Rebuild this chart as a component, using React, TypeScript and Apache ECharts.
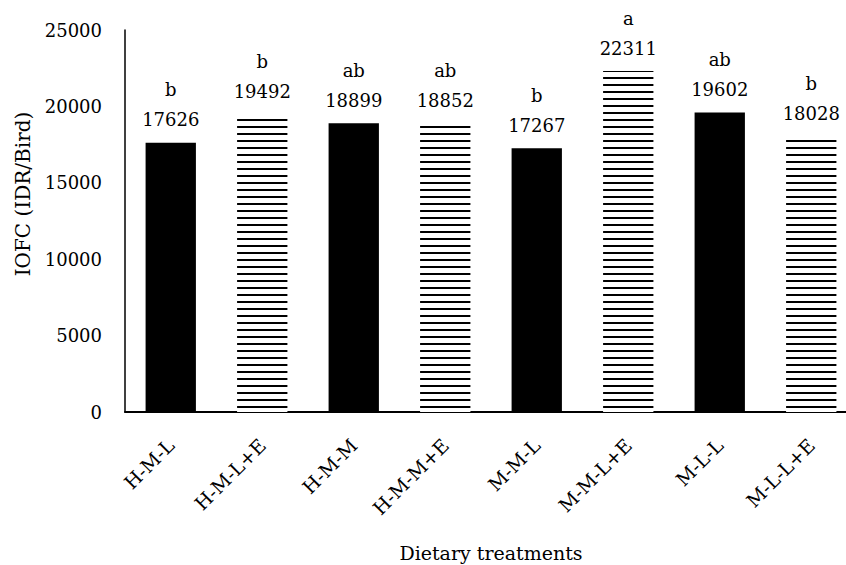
import React, { useEffect, useRef } from "react";
import * as echarts from "echarts";

const categories = ["H-M-L", "H-M-L+E", "H-M-M", "H-M-M+E", "M-M-L", "M-M-L+E", "M-L-L", "M-L-L+E"];
const values = [17626, 19492, 18899, 18852, 17267, 22311, 19602, 18028];
const letters = ["b", "b", "ab", "ab", "b", "a", "ab", "b"];
const hatched = [false, true, false, true, false, true, false, true];
const yTicks = { min: 0, max: 25000, interval: 5000 };

const FONT = "'DejaVu Serif', 'Liberation Serif', serif";

export default function App() {
  const ref = useRef<HTMLDivElement>(null);
  useEffect(() => {
    if (!ref.current) return;
    const chart = echarts.init(ref.current, undefined, { renderer: "svg" });
    const data = values.map((v, i) => ({
      value: v,
      itemStyle: hatched[i]
        ? {
            color: "#ffffff",
            decal: {
              symbol: "rect",
              symbolSize: 1,
              color: "#000000",
              dashArrayX: [1, 0],
              dashArrayY: [2, 5],
              rotation: 0,
            },
          }
        : { color: "#000000" },
    }));
    chart.setOption({
      animation: false,
      backgroundColor: "#ffffff",
      grid: {
        left: 125,
        top: 30,
        width: 732,
        height: 382,
        containLabel: false,
        outerBoundsMode: "none",
      },
      graphic: [
        {
          type: "text",
          x: 23,
          y: 194,
          rotation: Math.PI / 2,
          style: {
            text: "IOFC (IDR/Bird)",
            fontFamily: FONT,
            fontSize: 20,
            fill: "#000",
            align: "center",
            verticalAlign: "middle",
          },
        },
      ],
      xAxis: {
        type: "category",
        data: categories,
        name: "Dietary treatments",
        nameLocation: "middle",
        nameGap: 131,
        nameTextStyle: { fontFamily: FONT, fontSize: 19, color: "#000" },
        axisLine: { lineStyle: { color: "#000", width: 2 } },
        axisTick: { show: false },
        axisLabel: {
          rotate: 45,
          interval: 0,
          fontFamily: FONT,
          fontSize: 19,
          color: "#000",
          margin: 30,
        },
      },
      yAxis: {
        type: "value",
        min: yTicks.min,
        max: yTicks.max,
        interval: yTicks.interval,
        axisLine: { show: true, lineStyle: { color: "#000", width: 1.5 } },
        axisTick: { show: false },
        splitLine: { show: false },
        axisLabel: {
          fontFamily: FONT,
          fontSize: 18,
          color: "#000",
          margin: 23,
          formatter: (v: number) => String(v),
        },
      },
      series: [
        {
          type: "bar",
          data,
          barCategoryGap: "45%",
          label: {
            show: true,
            position: "top",
            distance: 8,
            fontFamily: FONT,
            fontSize: 18,
            lineHeight: 30,
            color: "#000",
            formatter: (p: any) => letters[p.dataIndex] + "\n" + values[p.dataIndex],
          },
        },
      ],
    });
    return () => chart.dispose();
  }, []);
  return (
    <div
      ref={ref}
      style={{ position: "absolute", left: 0, top: 0, width: 846, height: 565 }}
    />
  );
}
